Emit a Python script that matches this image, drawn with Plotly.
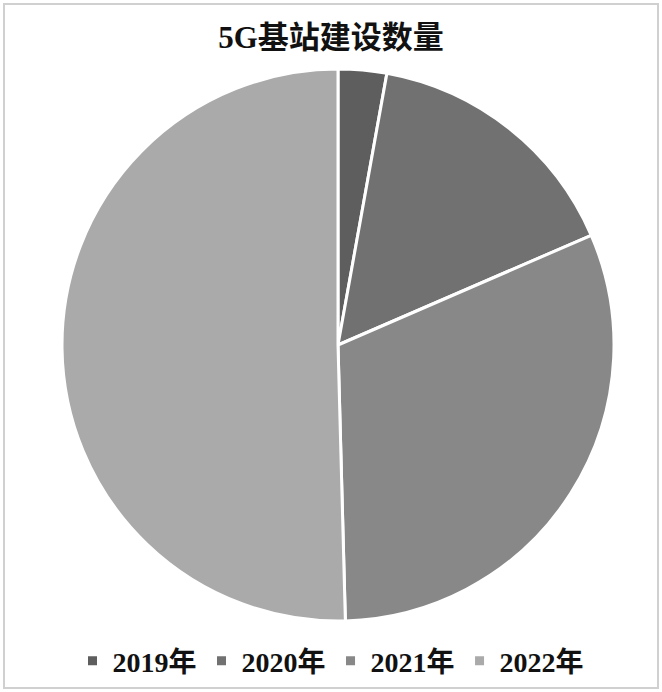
import plotly.graph_objects as go

years = ["2019年", "2020年", "2021年", "2022年"]
stations = [13.0, 71.8, 142.5, 231.2]  # 万个
colors = ["#5e5e5e", "#717171", "#888888", "#aaaaaa"]

W, H = 662, 692
cx, cy, r = 338, 345, 276

fig = go.Figure(go.Pie(
    labels=["<b>" + y + "</b>" for y in years],
    values=stations,
    sort=False,
    direction="clockwise",
    rotation=0,
    textinfo="none",
    hoverinfo="label+value+percent",
    marker=dict(colors=colors, line=dict(color="white", width=3)),
    domain=dict(x=[(cx - r) / W, (cx + r) / W], y=[(H - cy - r) / H, (H - cy + r) / H]),
))

font_family = "Liberation Serif, Noto Sans CJK SC, serif"

fig.update_layout(
    width=W, height=H,
    margin=dict(l=0, r=0, t=0, b=0),
    paper_bgcolor="white",
    font=dict(family=font_family, color="#111111"),
    title=dict(text="<b>5G基站建设数量</b>", x=0.5, xanchor="center", y=1 - 37 / H, yanchor="middle",
               font=dict(size=31, family=font_family, color="#111111")),
    legend=dict(orientation="h", x=0.5, xanchor="center", y=1 - 661 / H, yanchor="middle",
                font=dict(size=28, family=font_family, color="#111111"),
                itemwidth=30, tracegroupgap=0),
    showlegend=True,
    shapes=[dict(type="rect", xref="paper", yref="paper",
                 x0=4 / W, x1=1 - 4 / W, y0=4 / H, y1=1 - 4 / H,
                 line=dict(color="#d0d0d0", width=2))],
)

fig.write_html("out.html", config={"displayModeBar": False},
               post_script="document.body.style.margin='0';document.body.style.overflow='hidden';")
